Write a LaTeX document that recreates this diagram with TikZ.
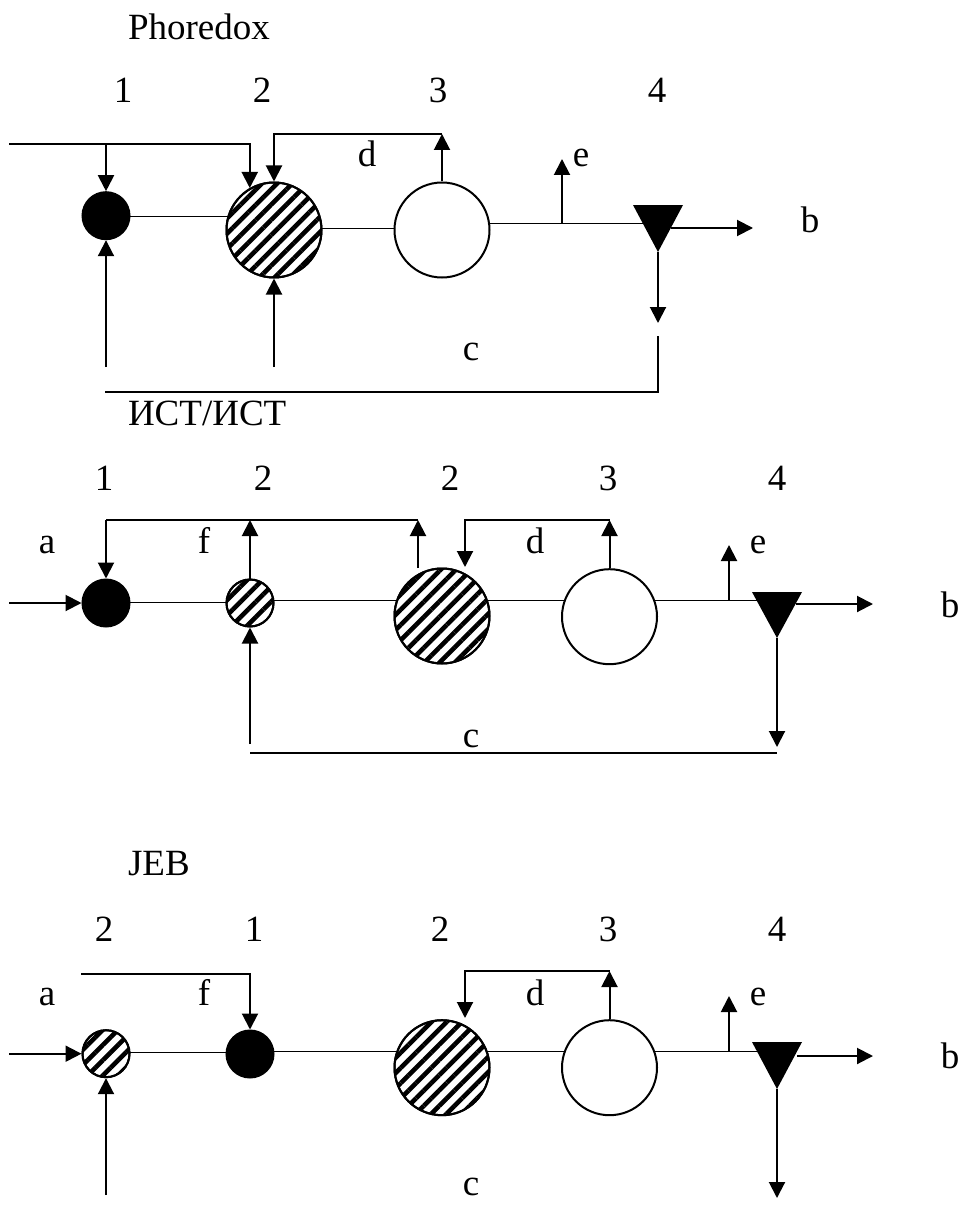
\documentclass[tikz,border=0pt]{standalone}
\usepackage{fontspec}
\setmainfont{Liberation Serif}
\usetikzlibrary{arrows.meta,patterns.meta,backgrounds,calc}

\begin{document}
\begin{tikzpicture}[x=1pt,y=-1pt,
  line width=2pt,
  flow/.style={-{Triangle[length=16pt,width=16pt]}},
  unit/.style={circle,draw,inner sep=0pt,line width=2pt},
  dark/.style={unit,fill=black,minimum size=47pt},
  clear/.style={unit,fill=white,minimum size=95pt},
  hatch/.style={unit,fill=white,
    postaction={pattern={Lines[angle=45,distance=10.8pt,line width=4.6pt]}},
    postaction={draw,line width=2pt}},
  bighatch/.style={hatch,minimum size=95pt},
  smallhatch/.style={hatch,minimum size=47pt},
  lbl/.style={font=\fontsize{37}{44}\selectfont,inner sep=0pt,anchor=base},
  ttl/.style={lbl,anchor=base west},
]
\useasboundingbox (0,0) rectangle (959,1209);

% ---------------- Phoredox ----------------
\node[ttl] (t1) at (127,40) {Phoredox};
\node[lbl] (n11) at (123,103) {1};
\node[lbl] (n12) at (262,103) {2};
\node[lbl] (n13) at (438,103) {3};
\node[lbl] (n14) at (657,103) {4};

\node[dark] (B1) at (106,215.7) {};
\node[bighatch] (H1) at (274,230) {};
\node[clear] (C1) at (442,230) {};
\coordinate (T1) at (658,205);
\coordinate (T1a) at (658,252);
\fill (T1) ++(-25,0) -- ++(50,0) -- (T1a) -- cycle;

\begin{scope}[on background layer]
  \draw (B1.center) -- (274,215.7);
  \draw (274,227.7) -- (442,227.7);
  \draw (442,223) -- (T1a |- 0,223);
\end{scope}

\coordinate (in1) at (9,144);
\draw (in1) -- (106,144);
\draw[flow] (in1) -| (H1.120);
\draw[flow] (106,144) -- (B1.north);
\coordinate (d1) at (442,134);
\draw[flow] (C1.north) -- (d1);
\draw[flow] (d1) -| (H1.north);
\node[lbl] (ld1) at (367,167) {d};

\coordinate (u11) at (106,367);
\coordinate (u12) at (274,367);
\draw[flow] (u11) -- (B1.south);
\draw[flow] (u12) -- (H1.south);
\coordinate (r1) at (658,336);
\draw (105,392) -| (r1);
\draw[flow] (T1a) -- (658,323);
\node[lbl] (lc1) at (471,360) {c};

\coordinate (e1) at (562,223);
\draw[flow] (e1) -- (562,159);
\node[lbl] (le1) at (581,167) {e};
\draw[flow] (671,228) -- (753,228);
\node[lbl] (lb1) at (810,232) {b};

% ---------------- ИСТ/ИСТ ----------------
\node[ttl] (t2) at (127,425) {ИСТ/ИСТ};
\node[lbl] (n21) at (104,490) {1};
\node[lbl] (n22) at (263,490) {2};
\node[lbl] (n23) at (450,490) {2};
\node[lbl] (n24) at (608,490) {3};
\node[lbl] (n25) at (777,490) {4};

\node[dark] (B2) at (106,603) {};
\node[smallhatch] (S2) at (250,603) {};
\node[bighatch] (H2) at (442,616) {};
\node[clear] (C2) at (609.5,616.7) {};
\coordinate (T2) at (777,592);
\coordinate (T2a) at (777,638);
\fill (T2) ++(-25,0) -- ++(50,0) -- (T2a) -- cycle;

\begin{scope}[on background layer]
  \draw (106,602) -- (250,602);
  \draw (250,600) -- (442,600);
  \draw (442,600) -- (609.5,600);
  \draw (609.5,600) -- (777,600);
\end{scope}

\draw[flow] (9,603) -- (B2.west);
\node[lbl] (la2) at (47,553) {a};

\coordinate (f2) at (106,520);
\draw (f2) -- (418,520);
\draw[flow] (f2) -- (B2.north);
\draw[flow] (S2.north) -- (250,520);
\draw[flow] (418,568) -- (418,520);
\node[lbl] (lf2) at (204,553) {f};

\coordinate (d2) at (609.5,520);
\draw[flow] (C2.north) -- (d2);
\draw[flow] (d2) -| (465,567);
\node[lbl] (ld2) at (535,553) {d};

\draw[flow] (729,600) -- (729,545);
\node[lbl] (le2) at (758,553) {e};
\draw[flow] (796,604) -- (873,604);
\node[lbl] (lb2) at (950,617) {b};

\draw[flow] (T2a) -- (777,747);
\draw (250,753) -- (777,753);
\draw[flow] (250,744) -- (S2.south);
\node[lbl] (lc2) at (471,747) {c};

% ---------------- JEB ----------------
\node[ttl] (t3) at (127,875) {JEB};
\node[lbl] (n31) at (104,941) {2};
\node[lbl] (n32) at (254,941) {1};
\node[lbl] (n33) at (440,941) {2};
\node[lbl] (n34) at (608,941) {3};
\node[lbl] (n35) at (777,941) {4};

\node[smallhatch] (S3) at (106,1053.7) {};
\node[dark] (B3) at (250,1054) {};
\node[bighatch] (H3) at (442,1067.7) {};
\node[clear] (C3) at (609.5,1067.7) {};
\coordinate (T3) at (777,1042);
\coordinate (T3a) at (777,1089);
\fill (T3) ++(-25,0) -- ++(50,0) -- (T3a) -- cycle;

\begin{scope}[on background layer]
  \draw (106,1052) -- (250,1052);
  \draw (250,1050.7) -- (609.5,1050.7);
  \draw (609.5,1051) -- (777,1051);
\end{scope}

\draw[flow] (9,1053.7) -- (S3.west);
\node[lbl] (la3) at (47,1005) {a};
\draw[flow] (106,1195) -- (S3.south);

\draw[flow] (81,974) -| (B3.north);
\node[lbl] (lf3) at (204,1005) {f};

\coordinate (d3) at (609.5,971);
\draw[flow] (C3.north) -- (d3);
\draw[flow] (d3) -| (465,1018);
\node[lbl] (ld3) at (535,1005) {d};

\draw[flow] (729,1051) -- (729,996);
\node[lbl] (le3) at (758,1005) {e};
\draw[flow] (797,1056) -- (873,1056);
\node[lbl] (lb3) at (950,1068) {b};

\draw[flow] (T3a) -- (777,1198);
\node[lbl] (lc3) at (471,1195) {c};
\end{tikzpicture}
\end{document}
